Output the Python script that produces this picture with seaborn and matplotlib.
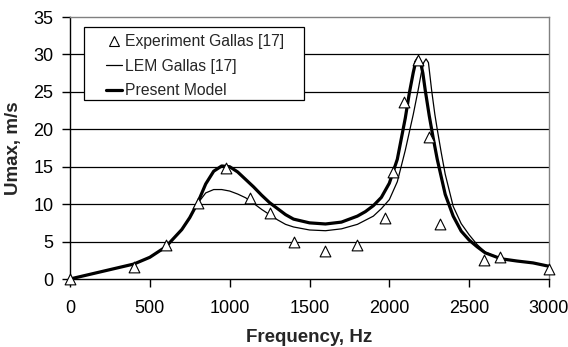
import matplotlib
matplotlib.use("Agg")
import matplotlib.pyplot as plt
import seaborn as sns
from matplotlib.patches import Rectangle
from matplotlib.lines import Line2D

# ---- data ----
f_exp = [0, 400, 600, 800, 980, 1130, 1250, 1400, 1600, 1800, 1975, 2025, 2090, 2180, 2250, 2320, 2590, 2695, 3000]
v_exp = [0, 1.6, 4.5, 10.1, 14.8, 10.8, 8.8, 4.9, 3.7, 4.5, 8.1, 14.3, 23.7, 29.2, 19.0, 7.4, 2.5, 3.0, 1.3]

f_lem = [0, 100, 200, 300, 400, 500, 600, 700, 750, 800, 850, 900, 950, 1000, 1050, 1100, 1150, 1200,
         1250, 1300, 1350, 1400, 1500, 1600, 1700, 1800, 1900, 1950, 2000, 2050, 2100, 2150, 2180, 2200,
         2215, 2230, 2245, 2265, 2285, 2300, 2325, 2350, 2400, 2450, 2500, 2550, 2600, 2700, 2800, 2900, 3000]
v_lem = [0, 0.5, 1.0, 1.5, 2.0, 2.9, 4.3, 6.6, 8.1, 10.1, 11.5, 11.95, 11.95, 11.75, 11.35, 10.85, 10.1, 9.3,
         8.6, 7.9, 7.3, 6.95, 6.55, 6.45, 6.7, 7.3, 8.4, 9.4, 10.6, 13.0, 17.2, 22.0, 25.2, 27.5,
         28.9, 29.4, 28.9, 25.2, 22.0, 20.0, 16.9, 14.0, 9.7, 7.4, 5.9, 4.6, 3.6, 2.7, 2.4, 2.15, 1.7]

f_pm = [0, 100, 200, 300, 400, 500, 600, 700, 750, 800, 850, 900, 950, 1000, 1050, 1100, 1150, 1200, 1250,
        1300, 1350, 1400, 1500, 1600, 1700, 1800, 1850, 1900, 1950, 2000, 2050, 2100, 2125, 2150, 2165, 2180,
        2195, 2210, 2225, 2250, 2275, 2300, 2350, 2400, 2450, 2500, 2550, 2600, 2700, 2800, 2900, 3000]
v_pm = [0, 0.5, 1.0, 1.5, 2.0, 2.9, 4.3, 6.6, 8.2, 10.2, 12.7, 14.4, 15.1, 15.0, 14.3, 13.3, 12.3, 11.2, 10.2,
        9.4, 8.6, 8.0, 7.5, 7.35, 7.6, 8.4, 9.0, 9.8, 10.9, 12.8, 16.0, 21.5, 24.8, 27.6, 29.0, 29.5,
        29.0, 27.5, 25.2, 21.8, 18.8, 16.0, 11.3, 8.4, 6.4, 5.2, 4.3, 3.5, 2.7, 2.4, 2.15, 1.7]

x_ticks = [0, 500, 1000, 1500, 2000, 2500, 3000]
y_ticks = [0, 5, 10, 15, 20, 25, 30, 35]
legend_labels = ["Experiment Gallas [17]", "LEM Gallas [17]", "Present Model"]

# ---- style ----
sns.set_style("white")
plt.rcParams['font.family'] = ['Liberation Sans', 'DejaVu Sans']

fig = plt.figure(figsize=(5.68, 3.47), dpi=100)
ax = fig.add_axes([70/568, 1-279/347, 479/568, 262/347])

sns.lineplot(x=f_lem, y=v_lem, ax=ax, color='black', linewidth=0.9, sort=False, zorder=3)
sns.lineplot(x=f_pm, y=v_pm, ax=ax, color='black', linewidth=2.3, sort=False, zorder=4)
sns.scatterplot(x=f_exp, y=v_exp, ax=ax, marker='^', s=60, facecolor='white',
                edgecolor='black', linewidth=0.8, zorder=5, clip_on=False)

ax.set_xlim(0, 3000)
ax.set_ylim(0, 35)
ax.set_xticks(x_ticks)
ax.set_yticks(y_ticks)
ax.tick_params(axis='both', direction='out', length=6, width=1, color='black',
               labelsize=13, labelcolor='black')
ax.tick_params(axis='x', pad=9, bottom=True)
ax.tick_params(axis='y', pad=6, left=True)

for yv in y_ticks[1:-1]:
    ax.axhline(yv, color='black', linewidth=0.9, zorder=1)

ax.spines['left'].set_color('black')
ax.spines['bottom'].set_color('black')
ax.spines['left'].set_linewidth(1)
ax.spines['bottom'].set_linewidth(1)
for s in ['top', 'right']:
    ax.spines[s].set_color('#808080')
    ax.spines[s].set_linewidth(1)

ax.set_xlabel("Frequency, Hz", fontsize=13.5, fontweight='bold', labelpad=9)
ax.set_ylabel("Umax, m/s", fontsize=13.5, fontweight='bold', labelpad=8)

# legend box
x0 = (84-70)/479
y0 = (279-100)/262
box = Rectangle((x0, y0), 220/479, (100-27)/262, transform=ax.transAxes,
                facecolor='white', edgecolor='black', linewidth=0.9, zorder=6)
ax.add_patch(box)

handles = [
    Line2D([], [], linestyle='none', marker='^', markersize=7, markerfacecolor='white',
           markeredgecolor='black', markeredgewidth=0.8),
    Line2D([], [], color='black', linewidth=0.9),
    Line2D([], [], color='black', linewidth=2.3),
]
leg = ax.legend(handles, legend_labels, loc='upper left',
                bbox_to_anchor=((106-70)/479, (279-34)/262), frameon=False,
                fontsize=11.3, handlelength=1.05, handletextpad=0.15, labelspacing=0.62,
                borderpad=0, borderaxespad=0)
leg.set_zorder(7)

fig.savefig("out.png", dpi=100)
